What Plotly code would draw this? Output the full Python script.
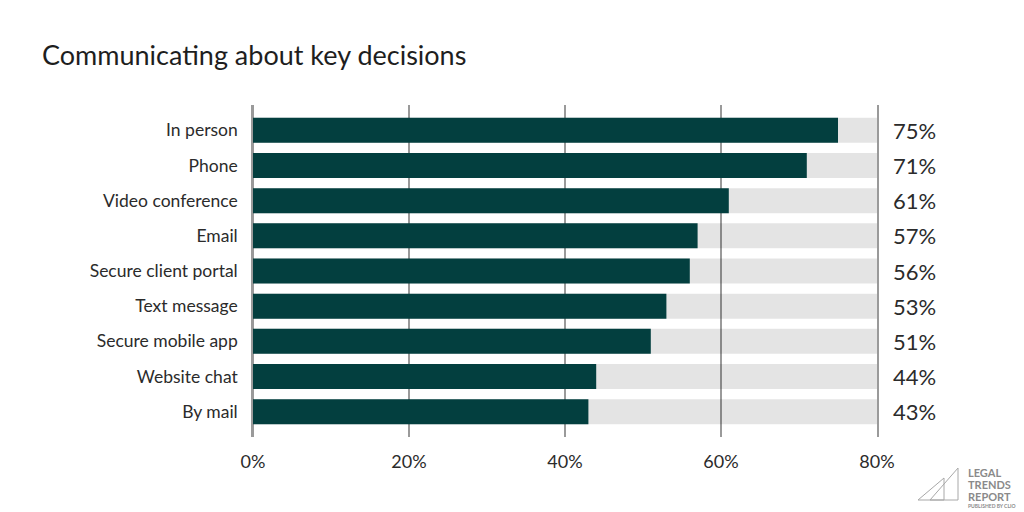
"""
Communicating about key decisions -- horizontal bar chart, Legal Trends style.
"""
import plotly.graph_objects as go

categories = [
    "In person",
    "Phone",
    "Video conference",
    "Email",
    "Secure client portal",
    "Text message",
    "Secure mobile app",
    "Website chat",
    "By mail",
]
values = [75, 71, 61, 57, 56, 53, 51, 44, 43]
track_max = 80
tick_vals = [0, 20, 40, 60, 80]
tick_text = ["0%", "20%", "40%", "60%", "80%"]

DARK = "#033f3f"
FONT = "Lato"
GRID = "#9a9a9a"

# plot area in pixels, used to place logo bits in paper coords
PX_L, PX_R, PX_T, PX_B = 253, 877, 105, 437


def px_to_paper(x, y):
    return (x - PX_L) / (PX_R - PX_L), (PX_B - y) / (PX_B - PX_T)


fig = go.Figure()

# light grey track behind each bar (translucent so the gridlines show through)
fig.add_trace(go.Bar(
    x=[track_max] * len(categories),
    y=categories,
    orientation="h",
    marker=dict(color="rgba(0,0,0,0.105)", line=dict(width=0)),
    hoverinfo="skip",
    showlegend=False,
))

fig.add_trace(go.Bar(
    x=values,
    y=categories,
    orientation="h",
    marker=dict(color=DARK, line=dict(width=0)),
    showlegend=False,
))

# value labels to the right of the track
for cat, v in zip(categories, values):
    fig.add_annotation(
        x=track_max, y=cat, xref="x", yref="y",
        text=f"{v}%", showarrow=False,
        xanchor="left", yanchor="middle", xshift=14,
        font=dict(family=FONT, size=22, color="#2b2b2b"),
    )

fig.update_layout(
    width=1024,
    height=512,
    barmode="overlay",
    bargap=0.29,
    paper_bgcolor="white",
    plot_bgcolor="white",
    margin=dict(l=PX_L, r=1024 - PX_R, t=PX_T, b=512 - PX_B),
    title=dict(
        text="Communicating about key decisions",
        x=42 / 1024,
        xanchor="left",
        y=1 - 56 / 512,
        yanchor="middle",
        font=dict(family=FONT, size=27, color="#1e1e1e"),
    ),
    font=dict(family=FONT, color="#2b2b2b"),
)

fig.update_xaxes(
    range=[0, track_max],
    tickvals=tick_vals,
    ticktext=tick_text,
    showgrid=True,
    gridcolor=GRID,
    gridwidth=1.5,
    zeroline=True,
    zerolinecolor=GRID,
    zerolinewidth=1.5,
    showline=False,
    tickfont=dict(family=FONT, size=18, color="#2b2b2b"),
    ticklabelstandoff=12,
    fixedrange=True,
)
# y axis line + mirror gives the 0% and 80% edge lines
fig.update_yaxes(
    categoryorder="array",
    categoryarray=categories,
    range=[8.72, -0.72],
    showgrid=False,
    showline=True,
    mirror=True,
    linecolor=GRID,
    linewidth=1.5,
    layer="below traces",
    tickfont=dict(family=FONT, size=17.5, color="#2b2b2b"),
    ticklabelstandoff=10,
    fixedrange=True,
)

# Legal Trends Report logo, bottom right
logo_gray = "#8a8a8a"
for (x0, y0), (x1, y1), (x2, y2) in [
    ((918, 500), (944, 478), (944, 500)),
    ((930, 500), (958, 468), (958, 500)),
]:
    a = px_to_paper(x0, y0)
    b = px_to_paper(x1, y1)
    c = px_to_paper(x2, y2)
    fig.add_shape(
        type="path",
        xref="paper", yref="paper",
        path=f"M {a[0]} {a[1]} L {b[0]} {b[1]} L {c[0]} {c[1]} Z",
        line=dict(color="#a8a8a8", width=1),
    )

for text, ypx, size in [("LEGAL", 472, 11), ("TRENDS", 484, 11), ("REPORT", 496, 11)]:
    xp, yp = px_to_paper(966, ypx)
    fig.add_annotation(
        x=xp, y=yp, xref="paper", yref="paper",
        text=f"<b>{text}</b>", showarrow=False,
        xanchor="left", yanchor="middle",
        font=dict(family=FONT, size=size, color=logo_gray),
    )
xp, yp = px_to_paper(966, 506)
fig.add_annotation(
    x=xp, y=yp, xref="paper", yref="paper",
    text="<b>PUBLISHED BY CLIO</b>", showarrow=False,
    xanchor="left", yanchor="middle",
    font=dict(family=FONT, size=5, color=logo_gray),
)

# the page's default body margin would shift the whole figure by 8px
fig.write_html(
    "out.html",
    config={"displayModeBar": False},
    post_script="document.body.style.margin='0';",
)
